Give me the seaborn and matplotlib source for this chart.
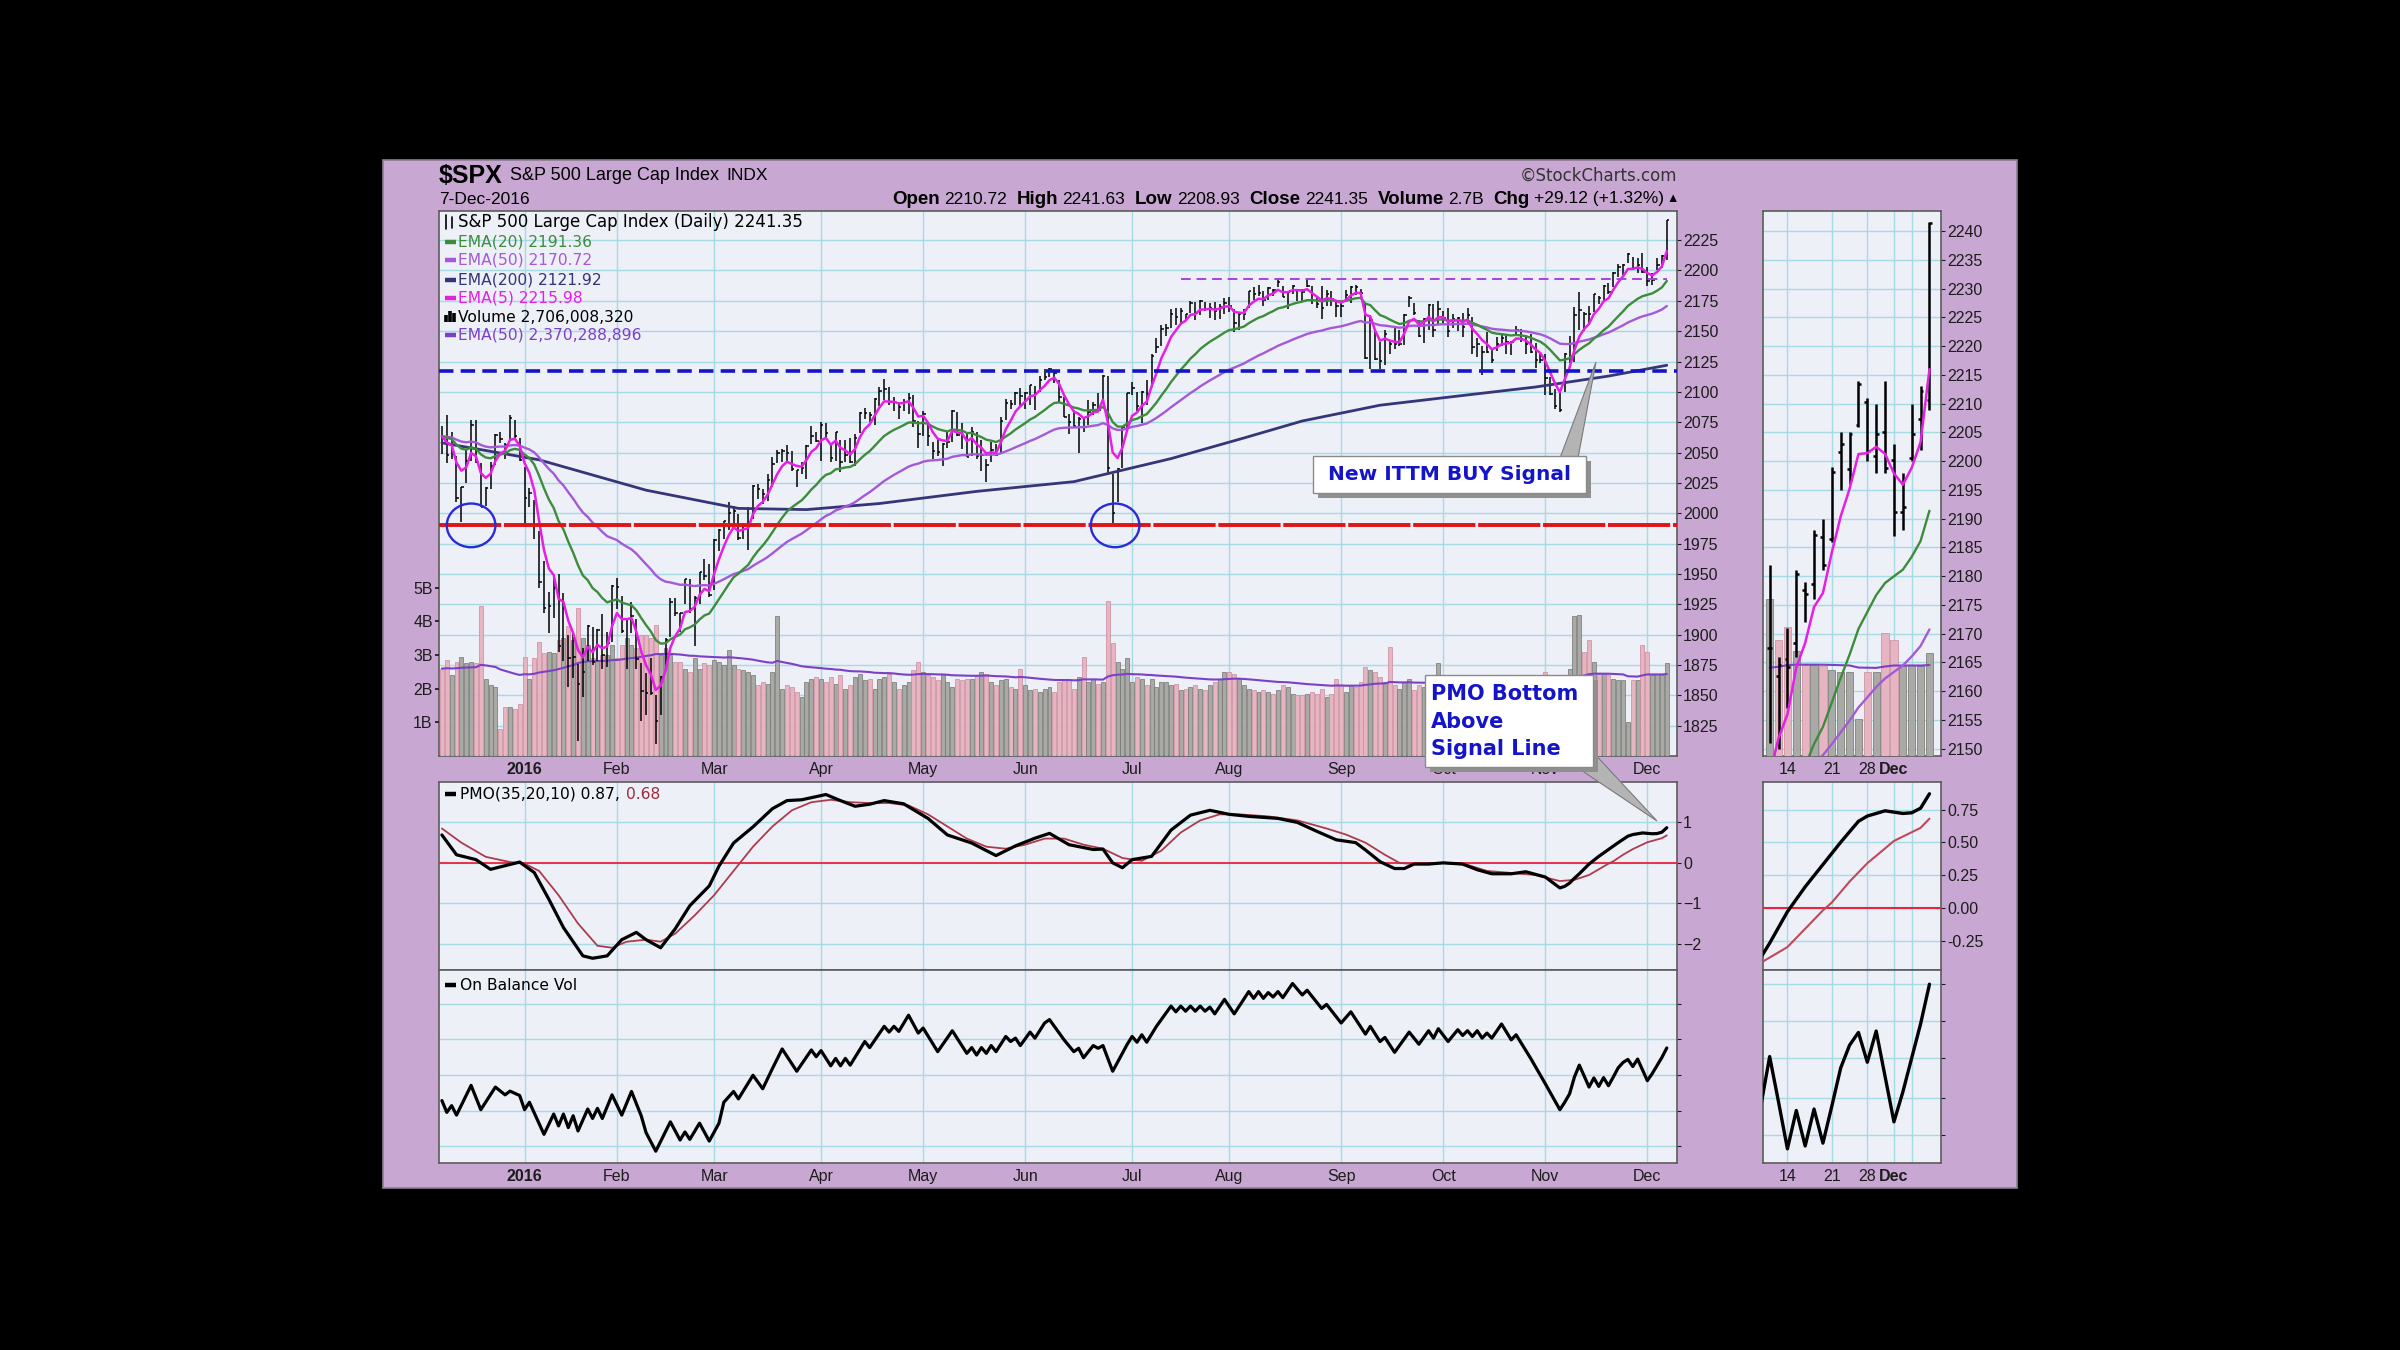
import numpy as np
import pandas as pd
import matplotlib
matplotlib.use("Agg")
import matplotlib.pyplot as plt
import seaborn as sns
from matplotlib.patches import Rectangle, Ellipse, Polygon
from matplotlib.lines import Line2D

# ---------------- data ----------------
holidays = ["2015-12-25", "2016-01-01", "2016-01-18", "2016-02-15", "2016-03-25",
            "2016-05-30", "2016-07-04", "2016-09-05", "2016-11-24"]
dates = pd.bdate_range("2015-12-08", "2016-12-07").difference(pd.to_datetime(holidays))

prev_close = 2077.07  # close of 7-Dec-2015

close = [
    # Dec 2015
    2063.59, 2047.62, 2052.23, 2012.37, 2021.94, 2043.41, 2073.07, 2041.89, 2005.55, 2021.15,
    2038.97, 2064.29, 2060.99, 2056.50, 2078.36, 2063.36, 2043.94,
    # Jan
    2012.66, 2016.71, 1990.26, 1943.09, 1922.03, 1923.67, 1938.68, 1890.28, 1921.84, 1880.33,
    1881.33, 1859.33, 1868.99, 1906.90, 1877.08, 1903.63, 1882.95, 1893.36, 1940.24,
    # Feb
    1939.38, 1903.03, 1912.53, 1915.45, 1880.05, 1853.44, 1852.21, 1851.86, 1829.08, 1864.78,
    1895.58, 1926.82, 1917.83, 1917.78, 1945.50, 1921.27, 1929.80, 1951.70, 1948.05, 1932.23,
    # Mar
    1978.35, 1986.45, 1993.40, 1999.99, 2001.76, 1979.26, 1989.26, 1989.57, 2022.19, 2019.64,
    2015.93, 2027.22, 2040.59, 2049.58, 2051.60, 2049.80, 2036.71, 2035.94, 2037.05, 2055.01,
    2063.95, 2059.74,
    # Apr
    2072.78, 2066.13, 2045.17, 2066.66, 2041.91, 2047.60, 2041.99, 2061.72, 2082.42, 2082.78,
    2080.73, 2094.34, 2100.80, 2102.40, 2091.48, 2091.58, 2087.79, 2091.70, 2095.15, 2075.81,
    2065.30,
    # May
    2081.43, 2063.37, 2051.12, 2050.63, 2057.14, 2058.69, 2084.39, 2064.46, 2064.11, 2046.61,
    2066.66, 2047.21, 2047.63, 2040.04, 2052.32, 2048.04, 2076.06, 2090.54, 2090.10, 2099.06,
    2096.95,
    # Jun
    2099.33, 2105.26, 2099.13, 2109.41, 2112.13, 2119.12, 2115.48, 2096.07, 2079.06, 2075.32,
    2071.50, 2077.99, 2071.22, 2083.25, 2088.90, 2085.45, 2113.32, 2037.41, 2000.54, 2036.09,
    2070.77, 2098.86,
    # Jul
    2102.95, 2088.55, 2099.73, 2097.90, 2129.90, 2137.16, 2152.14, 2152.43, 2163.75, 2161.74,
    2166.89, 2163.78, 2173.02, 2165.17, 2175.03, 2168.48, 2169.18, 2166.58, 2170.06, 2173.60,
    # Aug
    2170.84, 2157.03, 2163.79, 2164.25, 2182.87, 2180.89, 2181.74, 2175.49, 2185.79, 2184.05,
    2190.15, 2178.15, 2182.22, 2187.02, 2183.87, 2182.64, 2186.90, 2175.44, 2172.47, 2169.04,
    2180.38, 2176.12, 2170.95,
    # Sep
    2170.86, 2179.98, 2186.48, 2186.16, 2181.30, 2127.81, 2159.04, 2127.02, 2125.77, 2147.26,
    2139.16, 2139.12, 2139.76, 2163.12, 2177.18, 2164.69, 2146.10, 2159.93, 2171.37, 2151.13,
    2168.27,
    # Oct
    2161.20, 2150.49, 2159.73, 2160.77, 2153.74, 2163.66, 2136.73, 2139.18, 2132.55, 2132.98,
    2126.50, 2139.60, 2144.29, 2141.34, 2141.16, 2151.33, 2143.16, 2139.43, 2133.04, 2126.41,
    2126.15,
    # Nov
    2111.72, 2097.94, 2088.66, 2085.18, 2131.52, 2139.56, 2163.26, 2167.48, 2164.45, 2164.20,
    2180.39, 2176.94, 2187.12, 2181.90, 2198.18, 2202.94, 2204.72, 2213.35, 2201.72, 2204.66,
    2198.81,
    # Dec
    2191.08, 2191.95, 2204.71, 2212.23, 2241.35,
]

high = [
    2072, 2081, 2067, 2047, 2022, 2053, 2077, 2077, 2041, 2022, 2042, 2065, 2067, 2058, 2081, 2077, 2062,
    2038, 2021, 2011, 1985, 1961, 1935, 1947, 1950, 1934, 1900, 1901, 1876, 1889, 1908, 1906, 1905, 1917, 1902, 1941,
    1947, 1932, 1914, 1927, 1913, 1877, 1868, 1881, 1850, 1866, 1897, 1930, 1930, 1918, 1946, 1946, 1932, 1952, 1962, 1958,
    1979, 1987, 1994, 2009, 2006, 1999, 1992, 2005, 2023, 2024, 2020, 2032, 2046, 2052, 2053, 2056, 2051, 2036, 2042, 2056, 2072, 2067,
    2075, 2074, 2057, 2067, 2060, 2060, 2062, 2065, 2083, 2087, 2083, 2095, 2104, 2111, 2104, 2096, 2091, 2094, 2099, 2097, 2076,
    2084, 2074, 2059, 2061, 2058, 2067, 2085, 2083, 2074, 2065, 2071, 2067, 2060, 2045, 2059, 2057, 2079, 2094, 2093, 2100, 2103,
    2100, 2106, 2105, 2113, 2119, 2120, 2117, 2110, 2096, 2082, 2085, 2079, 2079, 2093, 2092, 2099, 2114, 2113, 2032, 2037, 2071, 2099,
    2108, 2100, 2101, 2110, 2131, 2144, 2155, 2156, 2168, 2169, 2169, 2164, 2175, 2174, 2176, 2174, 2173, 2174, 2172, 2177,
    2178, 2168, 2165, 2168, 2183, 2186, 2188, 2183, 2186, 2185, 2194, 2187, 2183, 2188, 2185, 2185, 2193, 2187, 2177, 2187, 2184, 2183, 2175,
    2174, 2184, 2187, 2188, 2185, 2172, 2163, 2150, 2141, 2151, 2143, 2153, 2151, 2164, 2179, 2173, 2159, 2161, 2172, 2172, 2175,
    2167, 2169, 2164, 2162, 2165, 2169, 2162, 2144, 2138, 2149, 2136, 2145, 2148, 2147, 2142, 2154, 2152, 2146, 2148, 2140, 2131,
    2131, 2112, 2102, 2100, 2132, 2146, 2170, 2182, 2166, 2171, 2181, 2179, 2188, 2190, 2199, 2205, 2205, 2214, 2211, 2210, 2214,
    2203, 2198, 2210, 2213, 2241.63,
]

low = [
    2049, 2041, 2045, 2009, 1993, 2025, 2043, 2041, 2005, 2006, 2020, 2040, 2058, 2045, 2061, 2062, 2043,
    1989, 2005, 1979, 1938, 1918, 1901, 1914, 1886, 1878, 1857, 1864, 1812, 1849, 1878, 1875, 1878, 1872, 1873, 1894,
    1921, 1901, 1872, 1901, 1872, 1829, 1834, 1850, 1810, 1834, 1872, 1898, 1915, 1902, 1925, 1918, 1891, 1925, 1945, 1931,
    1937, 1969, 1979, 1986, 1990, 1978, 1979, 1970, 1995, 2012, 2008, 2010, 2022, 2041, 2042, 2041, 2035, 2022, 2032, 2028, 2057, 2059,
    2043, 2062, 2042, 2043, 2034, 2042, 2041, 2039, 2066, 2078, 2075, 2073, 2088, 2093, 2089, 2084, 2078, 2084, 2082, 2071, 2054,
    2064, 2055, 2045, 2047, 2039, 2054, 2059, 2064, 2053, 2046, 2047, 2045, 2035, 2026, 2042, 2047, 2049, 2077, 2086, 2089, 2088,
    2086, 2089, 2085, 2100, 2110, 2112, 2107, 2092, 2079, 2065, 2070, 2050, 2067, 2073, 2081, 2084, 2094, 2033, 1992, 2009, 2037, 2070,
    2097, 2084, 2074, 2089, 2104, 2132, 2138, 2146, 2153, 2155, 2157, 2159, 2165, 2159, 2163, 2167, 2161, 2159, 2160, 2164,
    2166, 2149, 2151, 2159, 2169, 2176, 2179, 2171, 2176, 2179, 2186, 2178, 2168, 2181, 2175, 2175, 2186, 2172, 2169, 2160, 2171, 2171, 2162,
    2162, 2174, 2173, 2180, 2177, 2127, 2119, 2126, 2119, 2122, 2131, 2135, 2138, 2139, 2170, 2163, 2145, 2140, 2151, 2145, 2156,
    2156, 2145, 2153, 2150, 2145, 2157, 2131, 2129, 2114, 2132, 2124, 2134, 2138, 2131, 2130, 2146, 2141, 2131, 2132, 2120, 2124,
    2097, 2097, 2086, 2083, 2100, 2124, 2125, 2151, 2150, 2157, 2166, 2172, 2176, 2181, 2186, 2195, 2196, 2206, 2200, 2198, 2198,
    2187, 2188, 2200, 2202, 2208.93,
]

# opens of the last 19 sessions (zoomed panel), 10-Nov .. 7-Dec
recent_open = [2167.5, 2162.7, 2165.6, 2168.3, 2177.5, 2178.6, 2186.8, 2186.4, 2201.6, 2198.6,
               2206.3, 2210.2, 2200.8, 2205.0, 2200.2, 2191.1, 2200.6, 2207.3, 2210.7]

volume_b = [
    2.6, 2.85, 2.4, 2.8, 2.95, 2.75, 2.8, 2.75, 4.45, 2.3, 2.1, 2.05, 0.8, 1.45, 1.45, 1.4, 1.55,
    2.95, 2.3, 2.9, 3.4, 3.05, 3.1, 3.05, 3.45, 3.5, 3.85, 3.45, 4.4, 3.5, 3.3, 2.9, 2.85, 3.0, 3.0, 3.3,
    2.9, 3.3, 3.5, 3.3, 3.2, 3.6, 3.6, 3.5, 3.9, 3.0, 3.2, 3.0, 2.8, 2.8, 2.6, 2.5, 2.9, 2.6, 2.75, 2.7,
    2.85, 2.8, 2.7, 3.15, 2.7, 2.6, 2.55, 2.5, 2.4, 2.1, 2.2, 2.15, 2.5, 4.15, 2.0, 2.1, 2.05, 1.9, 1.75, 2.2, 2.3, 2.35,
    2.3, 2.2, 2.35, 2.15, 2.4, 2.0, 2.1, 2.35, 2.45, 2.25, 2.3, 2.0, 2.3, 2.35, 2.45, 2.2, 2.0, 2.1, 2.2, 2.55, 2.8,
    2.5, 2.4, 2.35, 2.25, 2.4, 2.2, 2.05, 2.3, 2.25, 2.3, 2.3, 2.4, 2.5, 2.45, 2.2, 2.1, 2.25, 2.3, 2.05, 2.0, 2.6,
    2.1, 1.95, 2.0, 1.9, 2.0, 2.05, 1.9, 2.2, 2.3, 2.25, 2.0, 2.35, 2.95, 2.2, 2.3, 2.15, 2.2, 4.6, 3.35, 2.8, 2.6, 2.9,
    2.2, 2.35, 2.3, 2.1, 2.3, 2.05, 2.2, 2.2, 2.1, 2.15, 1.95, 2.0, 2.05, 2.1, 2.0, 1.95, 2.1, 2.2, 2.3, 2.5,
    2.5, 2.45, 2.3, 2.1, 2.0, 1.95, 1.9, 1.95, 1.9, 1.85, 1.95, 2.1, 2.05, 1.85, 1.8, 1.8, 1.85, 1.9, 1.85, 2.0, 1.75, 1.85, 2.3,
    2.1, 1.9, 2.1, 2.05, 2.2, 2.65, 2.55, 2.5, 2.35, 2.2, 3.25, 2.1, 2.0, 2.2, 2.3, 1.95, 2.1, 2.05, 2.2, 2.15, 2.75,
    2.0, 2.05, 2.1, 2.0, 2.0, 1.75, 2.3, 2.15, 2.25, 2.1, 1.95, 2.05, 2.0, 2.1, 2.3, 2.0, 2.1, 2.2, 2.2, 2.3, 2.4,
    2.5, 2.4, 2.3, 2.25, 2.4, 2.6, 4.15, 4.2, 3.1, 3.45, 2.8, 2.45, 2.45, 2.4, 2.3, 2.25, 2.25, 1.0, 2.25, 2.25, 3.3,
    3.1, 2.4, 2.45, 2.4, 2.75,
]

# EMA(200) read at a few sessions (trading-day number from 8-Dec-2015)
ema200_day = [0, 20, 42, 61, 75, 90, 110, 130, 150, 165, 177, 193, 210, 225, 240, 252]
ema200_val = [2058, 2044, 2019, 2004, 2003, 2008, 2018, 2026, 2045, 2062, 2076, 2089, 2097, 2104, 2113, 2121.9]

pmo_day = [0, 3, 7, 10, 13, 16, 19, 22, 25, 29, 31, 34, 37, 40, 42, 45, 48, 51, 55, 57, 60, 64, 68, 71,
           74, 79, 82, 85, 88, 91, 95, 100, 104, 109, 114, 118, 122, 125, 129, 134, 136, 138, 140, 142,
           146, 150, 154, 158, 162, 166, 172, 176, 180, 184, 188, 190, 193, 196, 198, 200, 203, 206, 210,
           213, 216, 220, 223, 227, 230, 231, 232, 233, 234, 236, 238, 240, 242, 244, 245, 247, 249, 250,
           251, 252]
pmo_val = [0.69, 0.2, 0.08, -0.16, -0.07, 0.02, -0.24, -0.9, -1.6, -2.3, -2.36, -2.3, -1.9, -1.72, -1.9,
           -2.1, -1.63, -1.06, -0.57, -0.08, 0.49, 0.89, 1.34, 1.54, 1.56, 1.69, 1.54, 1.4, 1.45, 1.54,
           1.46, 1.1, 0.69, 0.49, 0.18, 0.42, 0.61, 0.73, 0.45, 0.33, 0.34, 0.0, -0.12, 0.08, 0.16, 0.81,
           1.18, 1.3, 1.2, 1.15, 1.1, 1.0, 0.78, 0.57, 0.5, 0.32, 0.03, -0.14, -0.14, -0.03, -0.03, 0.0,
           -0.03, -0.17, -0.27, -0.27, -0.22, -0.35, -0.62, -0.58, -0.5, -0.38, -0.27, -0.03, 0.16, 0.33,
           0.5, 0.66, 0.7, 0.74, 0.72, 0.725, 0.76, 0.87]

sig_day = [0, 4, 9, 14, 17, 20, 24, 28, 32, 35, 38, 42, 45, 48, 52, 56, 60, 64, 68, 72, 76, 80, 84, 88,
           92, 96, 100, 104, 108, 112, 116, 120, 124, 128, 132, 136, 140, 144, 148, 152, 156, 160, 164,
           170, 176, 182, 186, 190, 194, 197, 200, 206, 211, 215, 220, 225, 230, 233, 236, 240, 241, 243,
           245, 248, 251, 252]
sig_val = [0.85, 0.5, 0.15, 0.02, -0.02, -0.2, -0.8, -1.5, -2.05, -2.1, -1.95, -1.9, -1.95, -1.75, -1.3,
           -0.8, -0.2, 0.4, 0.9, 1.3, 1.5, 1.56, 1.5, 1.48, 1.48, 1.42, 1.2, 0.9, 0.6, 0.4, 0.35, 0.45,
           0.6, 0.6, 0.45, 0.35, 0.12, 0.05, 0.3, 0.75, 1.05, 1.2, 1.2, 1.15, 1.05, 0.85, 0.7, 0.5, 0.2,
           0.0, -0.03, 0.0, -0.05, -0.2, -0.25, -0.3, -0.45, -0.42, -0.3, -0.02, 0.04, 0.2, 0.34, 0.51,
           0.61, 0.68]

obv_day = [0, 1, 2, 3, 6, 8, 11, 13, 14, 16, 17, 18, 21, 23, 24, 25, 26, 27, 28, 30, 31, 32, 33, 35, 37,
           39, 41, 42, 44, 47, 49, 50, 51, 53, 55, 57, 58, 60, 61, 64, 66, 68, 70, 73, 76, 77, 78, 80,
           81, 82, 83, 84, 87, 88, 91, 92, 93, 94, 96, 98, 99, 102, 105, 108, 109, 110, 111, 112, 113,
           114, 116, 117, 118, 119, 121, 122, 124, 125, 126, 128, 130, 131, 132, 134, 135, 136, 138, 141,
           142, 143, 144, 145, 147, 150, 151, 152, 153, 154, 155, 156, 157, 158, 159, 161, 163, 166, 167,
           168, 169, 170, 171, 172, 173, 175, 177, 178, 181, 182, 185, 187, 190, 191, 193, 194, 196, 199,
           201, 203, 204, 205, 207, 209, 210, 211, 212, 213, 214, 215, 216, 218, 220, 221, 224, 227, 230,
           231, 232, 233, 234, 235, 236, 237, 238, 239, 240, 241, 242, 243, 244, 245, 246, 247, 248, 249,
           250, 251, 252]
obv_val = [18.5, 15.0, 17.0, 14.2, 23.0, 15.8, 22.5, 20.2, 21.3, 20.0, 15.8, 18.0, 8.5, 14.5, 11.0, 14.5,
           10.5, 14.0, 9.5, 16.0, 13.2, 16.2, 13.2, 20.2, 14.2, 21.2, 14.0, 9.0, 3.5, 12.2, 6.8, 9.2, 7.0,
           11.8, 6.5, 11.8, 18.0, 21.2, 19.0, 26.0, 22.0, 28.0, 33.8, 27.2, 33.5, 31.5, 33.3, 28.8, 31.0,
           28.8, 31.0, 29.0, 36.0, 34.2, 40.5, 38.8, 40.5, 39.0, 43.8, 38.5, 40.0, 33.0, 39.2, 32.5, 34.2,
           32.0, 34.2, 32.5, 34.8, 33.0, 37.5, 36.0, 37.0, 34.8, 38.8, 37.0, 41.5, 42.5, 40.5, 36.5, 33.0,
           34.0, 31.2, 34.8, 34.0, 34.8, 27.2, 35.2, 37.5, 35.8, 38.0, 35.8, 40.5, 46.5, 44.8, 46.5, 45.0,
           46.5, 45.0, 46.5, 45.0, 46.2, 44.2, 48.5, 44.2, 50.8, 48.8, 50.8, 48.8, 50.5, 49.2, 50.8, 49.0,
           53.2, 49.8, 51.2, 45.8, 47.0, 41.5, 44.8, 38.2, 40.5, 36.0, 37.2, 32.8, 38.8, 35.2, 39.2, 37.0,
           39.8, 36.0, 39.5, 37.8, 39.2, 37.5, 39.2, 37.0, 38.5, 37.0, 41.2, 36.5, 38.0, 31.0, 23.5, 15.8,
           18.0, 20.5, 25.5, 29.0, 25.8, 22.5, 25.2, 22.7, 25.3, 22.9, 25.5, 28.2, 29.8, 30.7, 28.6, 30.8,
           27.6, 24.4, 26.5, 28.9, 31.3, 34.1]

support_level = 1990
breakout_level = 2117
resistance_level = 2193
circle_days = [6, 138.5]

# ---------------- derived series ----------------
n = len(dates)
days = np.arange(n)
close_s = pd.Series(close)
ema5 = close_s.ewm(span=5, adjust=False).mean().values
ema20 = close_s.ewm(span=20, adjust=False).mean().values
ema50 = close_s.ewm(span=50, adjust=False).mean().values
vol = np.array(volume_b) * 1e9
vol_ema = pd.Series(vol).ewm(span=50, adjust=False).mean().values
prev = np.r_[prev_close, close[:-1]]
up = np.array(close) >= prev

# ---------------- style ----------------
LAV = "#c8a8d2"
PLOT_BG = "#eef0f8"
GRID = "#a6dbe4"
GREEN = "#3c8c3c"
PURPLE = "#a45ad8"
NAVY = "#353578"
MAGENTA = "#e61ee6"
VOLPURP = "#7c40c8"
PINK, PINK_E = "#e7b5c1", "#c98a9b"
GREY, GREY_E = "#a9aaa5", "#73746f"
BLUE = "#1414c8"

sns.set_theme(style="white")
plt.rcParams["font.family"] = ["Liberation Sans", "DejaVu Sans"]

W, H = 2400, 1350
fig = plt.figure(figsize=(24, 13.5), dpi=100, facecolor="black")


def fx(x):
    return x / W


def fy(y):
    return 1 - y / H


def rect(x0, y0, x1, y1):
    return [x0 / W, 1 - y1 / H, (x1 - x0) / W, (y1 - y0) / H]


fig.add_artist(Rectangle((fx(383), fy(1188)), (2017 - 383) / W, (1188 - 160) / H,
                         transform=fig.transFigure, facecolor=LAV, edgecolor="#8d7d95",
                         lw=1.2, zorder=-10))


def line(ax, x, y, color, lw, z=4):
    sns.lineplot(x=np.asarray(x), y=np.asarray(y), ax=ax, color=color, linewidth=lw,
                 zorder=z, legend=False, estimator=None, sort=False)


def frame(ax):
    ax.set_facecolor(PLOT_BG)
    for s in ax.spines.values():
        s.set_color("#5c5c5c")
        s.set_linewidth(1.2)
    ax.grid(True, color=GRID, lw=1.0)
    ax.set_axisbelow(True)
    ax.tick_params(colors="#1c1c1c", labelsize=11.5, length=3, width=0.8, pad=1.5,
                   direction="out")
    ax.set_xlabel("")
    ax.set_ylabel("")


month_pos = [i for i in range(1, n) if dates[i].month != dates[i - 1].month]
month_lab = ["2016" if dates[i].month == 1 else dates[i].strftime("%b") for i in month_pos]


def month_ticks(ax, labels):
    ax.set_xticks(month_pos)
    if labels:
        ax.set_xticklabels(month_lab)
        for t, lab in zip(ax.get_xticklabels(), month_lab):
            if lab == "2016":
                t.set_fontweight("bold")
    else:
        ax.set_xticklabels([])


def price_panel(box, sl, xlim, ylim, vtop, yticks, bar_lw, tick, with_open):
    base = fig.add_axes(box)
    frame(base)
    vax = base.twinx()
    base.yaxis.tick_right()
    base.set_yticks(yticks)
    base.set_ylim(ylim)
    vax.set_facecolor("none")
    for s in vax.spines.values():
        s.set_visible(False)
    d = days[sl]
    vax.bar(d, vol[sl], width=0.82, color=np.where(up[sl], GREY, PINK),
            edgecolor=np.where(up[sl], GREY_E, PINK_E), linewidth=0.5, zorder=2)
    line(vax, d, vol_ema[sl], VOLPURP, 1.5, 3)
    vax.set_ylim(0, vtop)
    vax.set_ylabel("")
    top = fig.add_axes(box, sharex=base, sharey=base, label="top%d" % sl.start)
    top.set_facecolor("none")
    top.axis("off")
    c = np.array(close)[sl]
    top.vlines(d, np.array(low)[sl], np.array(high)[sl], color="black", lw=bar_lw, zorder=3)
    top.hlines(c, d, d + tick, color="black", lw=bar_lw, zorder=3)
    if with_open:
        top.hlines(recent_open, d - tick, d, color="black", lw=bar_lw, zorder=3)
    line(top, ema200_day, ema200_val, NAVY, 2.0)
    line(top, d, ema50[sl], PURPLE, 1.7)
    line(top, d, ema20[sl], GREEN, 1.7)
    line(top, d, ema5[sl], MAGENTA, 1.8)
    base.set_xlim(xlim)
    base.set_ylim(ylim)
    base.yaxis.tick_right()
    return base, vax, top


# ---------------- main price panel ----------------
XL = (-0.6, 254.1)
base, vax, top = price_panel(rect(439, 211, 1677, 756), slice(0, n), XL, (1800, 2249), 16.2e9,
                             range(1825, 2226, 25), 1.1, 0.5, False)
month_ticks(base, True)
vax.yaxis.tick_left()
vax.set_yticks([1e9, 2e9, 3e9, 4e9, 5e9])
vax.set_yticklabels(["1B", "2B", "3B", "4B", "5B"])
vax.tick_params(labelsize=11.5, colors="#1c1c1c", length=3, pad=1.5)

top.axhline(support_level, color="#e01414", lw=2.8, dashes=(16, 0.7), zorder=5)
top.axhline(breakout_level, color=BLUE, lw=2.6, dashes=(4, 2), zorder=5)
top.hlines(resistance_level, 152, 252, color="#a443e0", lw=1.4, linestyles=(0, (5, 3)), zorder=5)
for cd in circle_days:
    top.add_patch(Ellipse((cd, support_level), width=10, height=36, fill=False,
                          edgecolor="#2a2ad8", lw=1.7, zorder=6))

# ---------------- zoomed price panel ----------------
recent = slice(n - len(recent_open), n)
sbase, svax, stop = price_panel(rect(1763, 211, 1941, 756), recent, (233.25, 253.3),
                                (2148.7, 2243.5), 14.6e9, range(2150, 2241, 5), 1.8, 0.32, True)
small_ticks = [236, 241, 245, 248]
sbase.set_xticks(small_ticks + [250])
sbase.set_xticklabels(["14", "21", "28", "Dec", ""])
sbase.get_xticklabels()[3].set_fontweight("bold")
svax.set_yticks([])

# ---------------- PMO ----------------
pmo = fig.add_axes(rect(439, 782, 1677, 970))
frame(pmo)
line(pmo, sig_day, sig_val, "#ad3b4b", 1.3)
line(pmo, pmo_day, pmo_val, "black", 2.3, 5)
pmo.axhline(0, color="#e8253f", lw=1.3, zorder=3)
pmo.yaxis.tick_right()
pmo.set_yticks([-2, -1, 0, 1])
pmo.set_ylim(-2.65, 2.0)
month_ticks(pmo, False)
pmo.set_xlim(XL)
pmo.set_xlabel("")
pmo.set_ylabel("")

spmo = fig.add_axes(rect(1763, 782, 1941, 970))
frame(spmo)
line(spmo, sig_day[-10:], sig_val[-10:], "#c04858", 1.5)
line(spmo, pmo_day[-17:], pmo_val[-17:], "black", 2.4, 5)
spmo.axhline(0, color="#e8253f", lw=1.5, zorder=3)
spmo.yaxis.tick_right()
spmo.set_yticks([-0.25, 0, 0.25, 0.5, 0.75])
spmo.set_yticklabels(["-0.25", "0.00", "0.25", "0.50", "0.75"])
spmo.set_ylim(-0.475, 0.96)
spmo.set_xticks(small_ticks + [250])
spmo.set_xticklabels([])
spmo.set_xlim(233.25, 253.3)
spmo.set_xlabel("")
spmo.set_ylabel("")

# ---------------- OBV ----------------
obv = fig.add_axes(rect(439, 970, 1677, 1163))
frame(obv)
line(obv, obv_day, obv_val, "black", 2.3)
obv.yaxis.tick_right()
obv.set_yticks([5.0, 15.5, 26.2, 36.7, 47.2])
obv.set_yticklabels([])
obv.set_ylim(0, 57.2)
month_ticks(obv, True)
obv.set_xlim(XL)
obv.set_xlabel("")
obv.set_ylabel("")

sobv = fig.add_axes(rect(1763, 970, 1941, 1163))
frame(sobv)
line(sobv, obv_day[-21:], obv_val[-21:], "black", 2.4)
sobv.yaxis.tick_right()
sobv.set_yticks([23.5, 26.1, 28.9, 31.5, 34.1])
sobv.set_yticklabels([])
sobv.set_ylim(21.5, 35.1)
sobv.set_xticks(small_ticks + [250])
sobv.set_xticklabels(["14", "21", "28", "Dec", ""])
sobv.get_xticklabels()[3].set_fontweight("bold")
sobv.set_xlim(233.25, 253.3)
sobv.set_xlabel("")
sobv.set_ylabel("")

# ---------------- texts ----------------
renderer = fig.canvas.get_renderer()


def text_run(x, y, parts, align="left", z=8):
    items = []
    for s, kw, gap in parts:
        t = fig.text(0, fy(y), s, va="center", ha="left", zorder=z, **kw)
        items.append((t, t.get_window_extent(renderer).width, gap))
    total = sum(w + g for _, w, g in items) - items[-1][2]
    cur = x if align == "left" else x - total
    for t, w, g in items:
        t.set_x(fx(cur))
        cur += w + g


B = dict(fontsize=13.5, fontweight="bold", color="black")
V = dict(fontsize=12.5, color="black")
text_run(439, 176, [("$SPX", dict(fontsize=18, fontweight="bold", color="black"), 7),
                    ("S&P 500 Large Cap Index", dict(fontsize=13, color="black"), 8),
                    ("INDX", dict(fontsize=12.5, color="black"), 0)])
fig.text(fx(439), fy(199), "7-Dec-2016", fontsize=12.5, color="black", va="center")
text_run(1679, 199, [("Open", B, 4), ("2210.72", V, 10), ("High", B, 4), ("2241.63", V, 10),
                     ("Low", B, 4), ("2208.93", V, 10), ("Close", B, 4), ("2241.35", V, 10),
                     ("Volume", B, 4), ("2.7B", V, 10), ("Chg", B, 4),
                     ("+29.12 (+1.32%)", V, 3), ("▲", dict(fontsize=9, color="black"), 0)],
         align="right")
fig.text(fx(1677), fy(176), "©StockCharts.com", fontsize=12, color="#333333",
         ha="right", va="center", family=["DejaVu Sans"])

LG = dict(family=["DejaVu Sans"], fontsize=11.2)


def dash(x, y, color):
    fig.add_artist(Line2D([fx(x), fx(x + 11)], [fy(y), fy(y)], color=color, lw=3.2,
                          transform=fig.transFigure, zorder=8, solid_capstyle="butt"))


# OHLC icon + title
for xi, (a, b2) in zip([446, 452], [(215, 229), (217, 228)]):
    fig.add_artist(Line2D([fx(xi), fx(xi)], [fy(a), fy(b2)], color="black", lw=1.2,
                          transform=fig.transFigure, zorder=8))
fig.text(fx(458), fy(222), "S&P 500 Large Cap Index (Daily) 2241.35", color="black",
         va="center", zorder=8, family=["DejaVu Sans"], fontsize=12)
legend_rows = [(242, "EMA(20) 2191.36", GREEN), (260, "EMA(50) 2170.72", PURPLE),
               (280, "EMA(200) 2121.92", NAVY), (298, "EMA(5) 2215.98", MAGENTA),
               (335, "EMA(50) 2,370,288,896", VOLPURP)]
for yy, s, col in legend_rows:
    dash(445, yy, col)
    fig.text(fx(458), fy(yy), s, color=col, va="center", zorder=8, **LG)
for xi, hgt in zip([446, 450, 454], [7, 11, 9]):
    fig.add_artist(Line2D([fx(xi), fx(xi)], [fy(322), fy(322 - hgt)], color="black", lw=2.6,
                          transform=fig.transFigure, zorder=8, solid_capstyle="butt"))
fig.text(fx(458), fy(317), "Volume 2,706,008,320", color="black", va="center", zorder=8, **LG)

dash(445, 794, "black")
text_run(460, 794, [("PMO(35,20,10) 0.87,", dict(color="black", **LG), 6),
                    ("0.68", dict(color="#a02a3a", **LG), 0)])
dash(445, 985, "black")
fig.text(fx(460), fy(985), "On Balance Vol", color="black", va="center", zorder=8, **LG)


# ---------------- callouts ----------------
def callout(x0, y0, x1, y1, pointer):
    fig.add_artist(Polygon([(fx(px), fy(py)) for px, py in pointer], closed=True,
                           transform=fig.transFigure, facecolor="#b4b4b4",
                           edgecolor="#7a7a7a", lw=0.8, zorder=19))
    fig.add_artist(Rectangle((fx(x0 + 5), fy(y1 + 5)), (x1 - x0) / W, (y1 - y0) / H,
                             transform=fig.transFigure, facecolor="#8f8f8f",
                             edgecolor="none", zorder=20))
    fig.add_artist(Rectangle((fx(x0), fy(y1)), (x1 - x0) / W, (y1 - y0) / H,
                             transform=fig.transFigure, facecolor="white",
                             edgecolor="#8a8a8a", lw=1.0, zorder=21))


CB = dict(family=["DejaVu Sans"], fontweight="bold", color=BLUE, zorder=22, va="center")
callout(1313, 456, 1586, 493, [(1560, 458), (1578, 458), (1596, 362)])
fig.text(fx(1449), fy(475), "New ITTM BUY Signal", ha="center", fontsize=14.5, **CB)

callout(1425, 675, 1593, 767, [(1572, 764), (1591, 750), (1657, 821)])
for yy, s in zip([694, 722, 749], ["PMO Bottom", "Above", "Signal Line"]):
    fig.text(fx(1431), fy(yy), s, ha="left", fontsize=15, **CB)

fig.savefig("out.png", dpi=100, facecolor="black")
